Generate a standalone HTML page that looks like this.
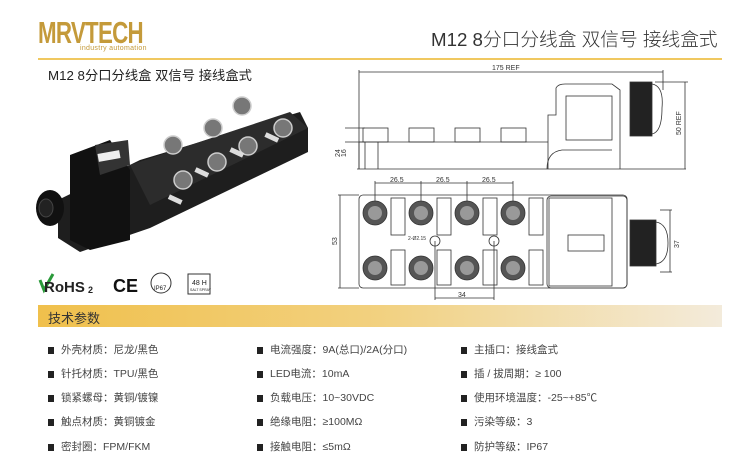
<!DOCTYPE html>
<html><head><meta charset="utf-8">
<style>
*{margin:0;padding:0}
body{width:747px;height:468px;background:#fff;position:relative;overflow:hidden;font-family:"Liberation Sans","Noto Sans CJK SC",sans-serif;color:#333}
.a{position:absolute;white-space:nowrap}
.spec{position:absolute;font-size:10.5px;color:#444;white-space:nowrap;line-height:14px}
.spec:before{content:"";display:inline-block;width:6px;height:7px;background:#222;margin-right:7px;vertical-align:-1px}
</style></head><body>
<div class="a" style="left:38px;top:15px;font-size:31px;font-weight:bold;color:#c49a3a;letter-spacing:-1px;transform:scaleX(0.72);transform-origin:0 0;">MRVTECH</div>
<div class="a" style="left:80px;top:45px;font-size:7px;color:#c49a3a;letter-spacing:0.3px">industry automation</div>
<div class="a" style="left:431px;top:25px;font-size:18.7px;color:#333;font-weight:300">M12 8分口分线盒 双信号 接线盒式</div>
<div class="a" style="left:38px;top:58px;width:684px;height:2px;background:#f0c860"></div>
<div class="a" style="left:48px;top:65px;font-size:13.3px;color:#222">M12 8分口分线盒 双信号 接线盒式</div>

<svg class="a" style="left:0;top:0" width="747" height="468">
<g>
<polygon points="58,200 140,160 300,112 308,128 308,152 150,228 80,252 58,238" fill="#1e1e1e"/>
<polygon points="130,165 290,112 308,128 150,205" fill="#2c2c2c"/>
<polygon points="70,155 110,140 130,170 130,240 90,250 70,240" fill="#111"/>
<polygon points="95,145 128,140 130,165 100,175" fill="#333"/>
<rect x="98" y="152" width="22" height="8" fill="#eee" transform="rotate(-10 109 156)"/>
<ellipse cx="50" cy="208" rx="14" ry="18" fill="#111"/>
<ellipse cx="46" cy="208" rx="7" ry="9" fill="#222" stroke="#444"/>
<g fill="#777" stroke="#ccc" stroke-width="1.5">
<circle cx="183" cy="180" r="9"/><circle cx="173" cy="145" r="9"/><circle cx="213" cy="128" r="9"/><circle cx="242" cy="106" r="9"/>
<circle cx="217" cy="162" r="9"/><circle cx="248" cy="146" r="9"/><circle cx="283" cy="128" r="9"/>
</g>
<g fill="#ddd"><rect x="168" y="197" width="14" height="5" transform="rotate(25 175 200)"/><rect x="195" y="170" width="14" height="5" transform="rotate(25 202 172)"/><rect x="230" y="150" width="14" height="5" transform="rotate(25 237 152)"/><rect x="265" y="135" width="14" height="5" transform="rotate(25 272 137)"/></g>
</g>
<path d="M40 280 l4 10 l9 -16" stroke="#2a9a3a" stroke-width="3" fill="none"/>
<text x="44" y="292" font-size="15" font-weight="bold" fill="#222" font-family="Liberation Sans">RoHS</text>
<text x="88" y="293" font-size="9" font-weight="bold" fill="#222">2</text>
<text x="113" y="292" font-size="18" font-weight="bold" fill="#111">CE</text>
<circle cx="161" cy="283" r="10" fill="#fff" stroke="#333"/><text x="154" y="290" font-size="6" fill="#222">IP67</text>
<rect x="188" y="274" width="22" height="20" fill="#fff" stroke="#333"/><text x="192" y="285" font-size="7" fill="#222">48 H</text><text x="190" y="291" font-size="3.5" fill="#222">SALT SPRAY</text>

<g stroke="#333" stroke-width="0.8" fill="none" font-family="Liberation Sans">
<line x1="359" y1="72" x2="663" y2="72"/><line x1="359" y1="70" x2="359" y2="169"/><line x1="663" y1="70" x2="663" y2="90"/>
<line x1="357" y1="169" x2="686" y2="169"/>
<line x1="359" y1="142" x2="548" y2="142"/>
<line x1="345" y1="128" x2="365" y2="128"/><line x1="345" y1="142" x2="365" y2="142"/>
<line x1="359" y1="142" x2="359" y2="169"/><line x1="365" y1="142" x2="365" y2="169"/><line x1="378" y1="142" x2="378" y2="169"/>
<rect x="363" y="128" width="25" height="14"/><rect x="409" y="128" width="25" height="14"/><rect x="455" y="128" width="25" height="14"/><rect x="501" y="128" width="25" height="14"/>
<path d="M548 169 V115 H556 V88 Q558 84 565 84 H612 L620 90 V169"/>
<rect x="566" y="96" width="46" height="44"/>
<path d="M547 169 Q547 152 562 150 H612"/>
<rect x="630" y="82" width="22" height="54" fill="#222"/>
<path d="M652 84 Q664 86 662 108 Q662 132 652 134"/>
<line x1="655" y1="82" x2="688" y2="82"/><line x1="685" y1="82" x2="685" y2="169"/>
<rect x="359" y="195" width="268" height="93" rx="4"/>
<rect x="547" y="196" width="80" height="92" rx="4"/>
<rect x="549" y="198" width="63" height="88"/>
<rect x="568" y="235" width="36" height="16"/>
<g fill="#555"><circle cx="375" cy="213" r="12"/><circle cx="421" cy="213" r="12"/><circle cx="467" cy="213" r="12"/><circle cx="513" cy="213" r="12"/>
<circle cx="375" cy="268" r="12"/><circle cx="421" cy="268" r="12"/><circle cx="467" cy="268" r="12"/><circle cx="513" cy="268" r="12"/></g>
<g fill="#999" stroke="none"><circle cx="375" cy="213" r="7"/><circle cx="421" cy="213" r="7"/><circle cx="467" cy="213" r="7"/><circle cx="513" cy="213" r="7"/>
<circle cx="375" cy="268" r="7"/><circle cx="421" cy="268" r="7"/><circle cx="467" cy="268" r="7"/><circle cx="513" cy="268" r="7"/></g>
<rect x="391" y="198" width="14" height="37"/><rect x="437" y="198" width="14" height="37"/><rect x="483" y="198" width="14" height="37"/><rect x="529" y="198" width="14" height="37"/>
<rect x="391" y="250" width="14" height="35"/><rect x="437" y="250" width="14" height="35"/><rect x="483" y="250" width="14" height="35"/><rect x="529" y="250" width="14" height="35"/>
<circle cx="435" cy="241" r="5"/><circle cx="494" cy="241" r="5"/>
<rect x="630" y="220" width="26" height="46" fill="#222"/>
<path d="M656 222 Q668 224 668 243 Q668 262 656 264"/>
<line x1="375" y1="183" x2="513" y2="183"/><line x1="375" y1="181" x2="375" y2="201"/><line x1="421" y1="181" x2="421" y2="201"/><line x1="467" y1="181" x2="467" y2="201"/><line x1="513" y1="181" x2="513" y2="201"/>
<line x1="338" y1="195" x2="359" y2="195"/><line x1="338" y1="288" x2="359" y2="288"/><line x1="340" y1="195" x2="340" y2="288"/>
<line x1="435" y1="241" x2="435" y2="300"/><line x1="494" y1="241" x2="494" y2="300"/><line x1="435" y1="298" x2="494" y2="298"/>
<line x1="660" y1="210" x2="672" y2="210"/><line x1="660" y1="272" x2="672" y2="272"/><line x1="670" y1="210" x2="670" y2="272"/>
</g>
<g font-size="7" fill="#333" font-family="Liberation Sans">
<text x="492" y="70">175 REF</text>
<text x="390" y="182">26.5</text><text x="436" y="182">26.5</text><text x="482" y="182">26.5</text>
<text x="458" y="297">34</text>
<text transform="translate(340,157) rotate(-90)">24</text><text transform="translate(346,157) rotate(-90)">16</text>
<text transform="translate(337,245) rotate(-90)">53</text>
<text transform="translate(681,135) rotate(-90)">50 REF</text>
<text transform="translate(679,248) rotate(-90)">37</text>
<text x="408" y="240" font-size="5">2-Ø2.15</text>
</g>
</svg>

<div class="a" style="left:38px;top:305px;width:684px;height:22px;background:linear-gradient(90deg,#f0c04c 0%,#f2d180 50%,#f3ebdb 100%)"></div>
<div class="a" style="left:48px;top:308px;font-size:13px;color:#333">技术参数</div>

<div class="spec" style="left:48px;top:343px">外壳材质：尼龙/黑色</div>
<div class="spec" style="left:48px;top:367px">针托材质：TPU/黑色</div>
<div class="spec" style="left:48px;top:391px">锁紧螺母：黄铜/镀镍</div>
<div class="spec" style="left:48px;top:415px">触点材质：黄铜镀金</div>
<div class="spec" style="left:48px;top:440px">密封圈：FPM/FKM</div>
<div class="spec" style="left:257px;top:343px">电流强度：9A(总口)/2A(分口)</div>
<div class="spec" style="left:257px;top:367px">LED电流：10mA</div>
<div class="spec" style="left:257px;top:391px">负载电压：10~30VDC</div>
<div class="spec" style="left:257px;top:415px">绝缘电阻：≥100MΩ</div>
<div class="spec" style="left:257px;top:440px">接触电阻：≤5mΩ</div>
<div class="spec" style="left:461px;top:343px">主插口：接线盒式</div>
<div class="spec" style="left:461px;top:367px">插 / 拔周期：≥ 100</div>
<div class="spec" style="left:461px;top:391px">使用环境温度：-25~+85℃</div>
<div class="spec" style="left:461px;top:415px">污染等级：3</div>
<div class="spec" style="left:461px;top:440px">防护等级：IP67</div>
</body></html>
